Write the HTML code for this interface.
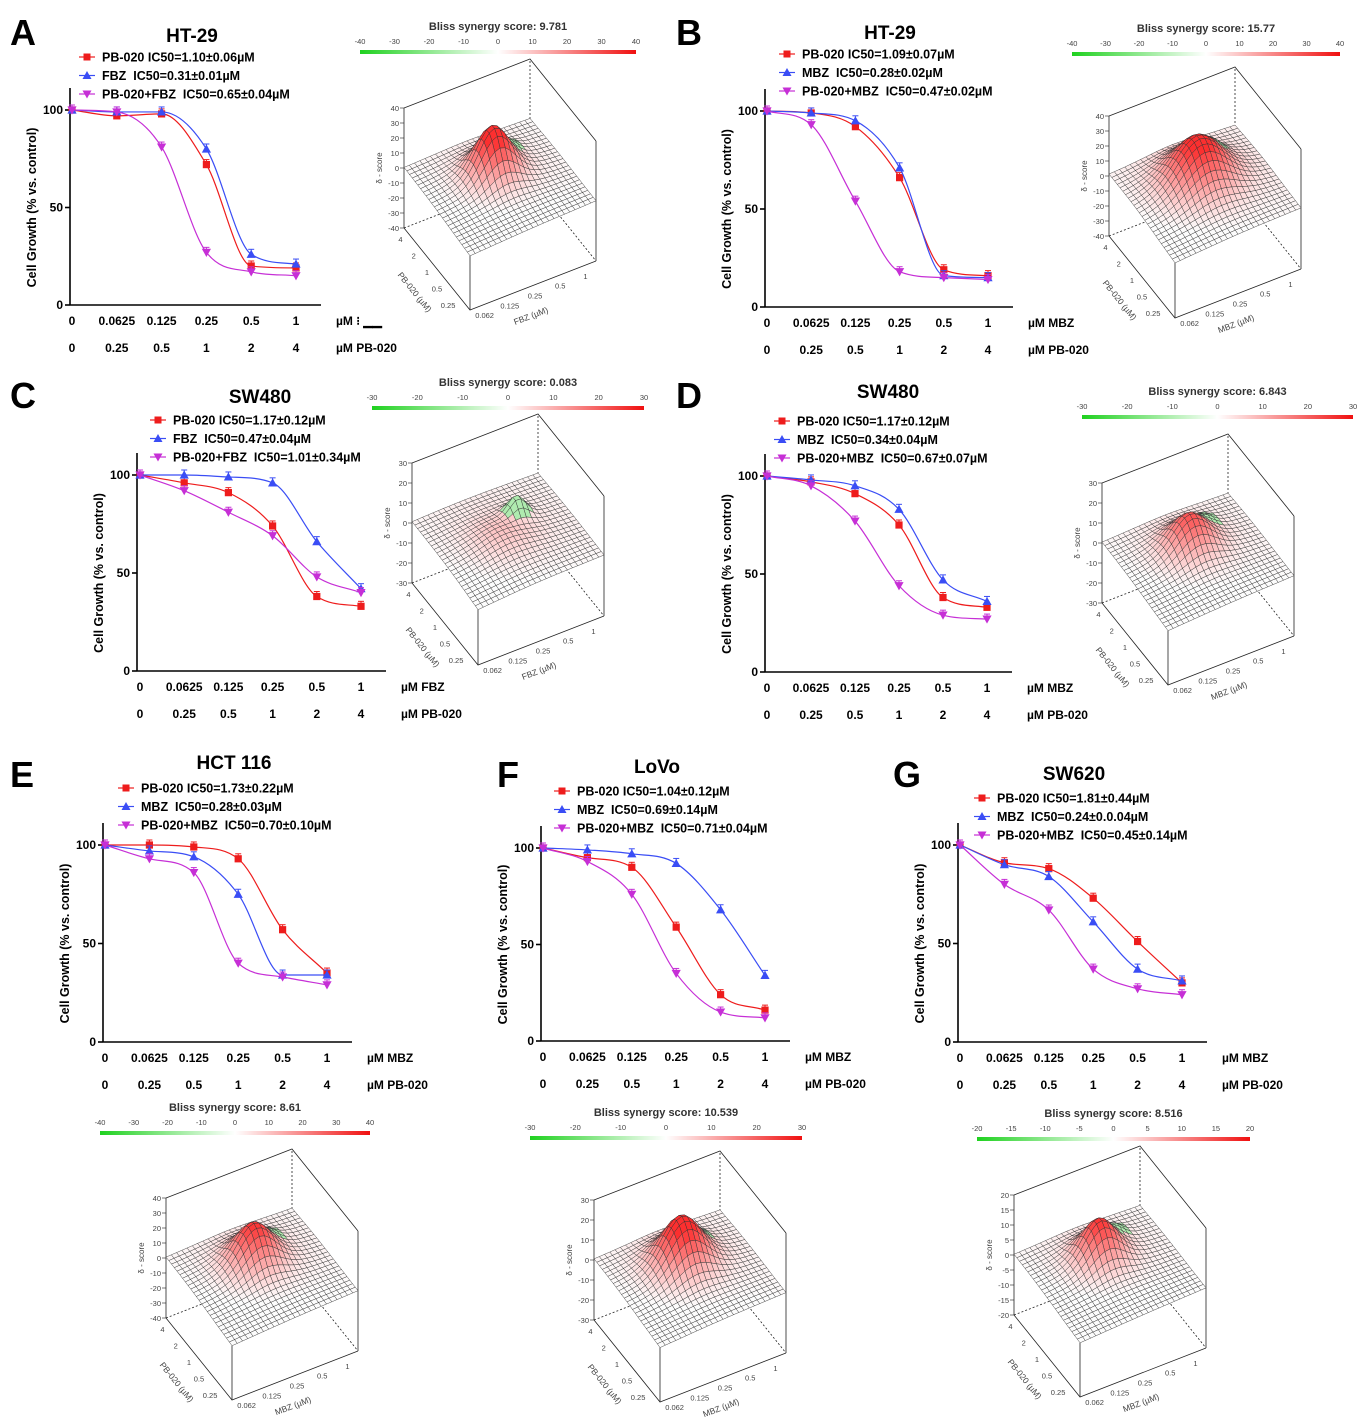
<!DOCTYPE html>
<html><head><meta charset="utf-8"><style>
html,body{margin:0;padding:0;background:#fff;}
svg{display:block;font-family:"Liberation Sans",Arial,sans-serif;}
text{white-space:pre;}
</style></head><body>
<svg id="fig" width="1366" height="1420" viewBox="0 0 1366 1420"></svg>
<script>
// ---- data ----
const dosesDrug = ["0","0.0625","0.125","0.25","0.5","1"];
const dosesPB = ["0","0.25","0.5","1","2","4"];
const yTicks = [0,50,100];
const A_pb = [100,97,98,72,20,19], A_drug=[100,99,99,80,26,21], A_combo=[100,99,81,27,17,15];
const B_pb = [100,99,92,66,19,16], B_drug=[100,99,95,71,16,15], B_combo=[100,93,54,18,15,14];
const C_pb = [100,96,91,74,38,33], C_drug=[100,100,99,96,66,42], C_combo=[100,92,81,69,48,40];
const D_pb = [100,97,91,75,38,33], D_drug=[100,98,95,83,47,36], D_combo=[100,95,77,44,29,27];
const E_pb = [100,100,99,93,57,35], E_drug=[100,97,94,75,34,34], E_combo=[100,93,86,40,33,29];
const F_pb = [100,95,90,59,24,16], F_drug=[100,99,97,92,68,34], F_combo=[100,93,76,35,15,12];
const G_pb = [100,91,88,73,51,30], G_drug=[100,90,84,61,37,31], G_combo=[100,80,67,37,27,24];
const blissScores = ["9.781","15.77","0.083","6.843","8.61","10.539","8.516"];
const zRanges = [40,40,30,30,40,30,20];

const panels = [
 {id:"A",cell:"HT-29",drug:"FBZ",ax:70,y100:110,y0:305,x0:72,dx:44.8,lt:[10,45],title:[192,42],leg:[87,57],
  ic:["1.10±0.06","0.31±0.01","0.65±0.04"],data:[A_pb,A_drug,A_combo],bar:[360,636,50],F:[470,310],peak:[0.6,0.5,0.75,0.03],green:0.12,unitTxt:"µM ⁝ ▁▁"},
 {id:"B",cell:"HT-29",drug:"MBZ",ax:765,y100:111,y0:307,x0:767,dx:44.2,lt:[676,45],title:[890,39],leg:[787,54],
  ic:["1.09±0.07","0.28±0.02","0.47±0.02"],data:[B_pb,B_drug,B_combo],bar:[1072,1340,52],F:[1175,318],peak:[0.6,0.5,0.7,0.06],green:0.08},
 {id:"C",cell:"SW480",drug:"FBZ",ax:137,y100:475,y0:671,x0:140,dx:44.2,lt:[10,408],title:[260,403],leg:[158,420],
  ic:["1.17±0.12","0.47±0.04","1.01±0.34"],data:[C_pb,C_drug,C_combo],bar:[372,644,406],F:[478,665],peak:[0.5,0.45,0.12,0.05],green:0.3},
 {id:"D",cell:"SW480",drug:"MBZ",ax:765,y100:476,y0:672,x0:767,dx:44,lt:[676,408],title:[888,398],leg:[782,421],
  ic:["1.17±0.12","0.34±0.04","0.67±0.07"],data:[D_pb,D_drug,D_combo],bar:[1082,1353,415],F:[1168,685],peak:[0.62,0.5,0.5,0.035],green:0.08},
 {id:"E",cell:"HCT 116",drug:"MBZ",ax:103,y100:845,y0:1042,x0:105,dx:44.4,lt:[10,787],title:[234,769],leg:[126,788],
  ic:["1.73±0.22","0.28±0.03","0.70±0.10"],data:[E_pb,E_drug,E_combo],bar:[100,370,1131],F:[232,1400],peak:[0.62,0.5,0.6,0.035],green:0.08},
 {id:"F",cell:"LoVo",drug:"MBZ",ax:541,y100:848,y0:1041,x0:543,dx:44.4,lt:[497,787],title:[657,773],leg:[562,791],
  ic:["1.04±0.12","0.69±0.14","0.71±0.04"],data:[F_pb,F_drug,F_combo],bar:[530,802,1136],F:[660,1402],peak:[0.62,0.5,0.75,0.04],green:0.08},
 {id:"G",cell:"SW620",drug:"MBZ",ax:958,y100:845,y0:1042,x0:960,dx:44.4,lt:[893,787],title:[1074,780],leg:[982,798],
  ic:["1.81±0.44","0.24±0.0.04","0.45±0.14"],data:[G_pb,G_drug,G_combo],bar:[977,1250,1137],F:[1080,1397],peak:[0.64,0.49,0.6,0.03],green:0.12}
];

const NS="http://www.w3.org/2000/svg";
const svg=document.getElementById("fig");
function mk(tag,attrs,parent,txt){const e=document.createElementNS(NS,tag);for(const k in attrs)e.setAttribute(k,attrs[k]);if(txt!==undefined)e.textContent=txt;(parent||svg).appendChild(e);return e;}
const colors=["#ee1c1c","#3a4df5","#c62fd6"];

function marker(g,type,x,y,c,s){
  if(type===0) return mk("rect",{x:x-s,y:y-s,width:2*s,height:2*s,fill:c},g);
  if(type===1) return mk("polygon",{points:`${x},${y-s-1} ${x-s-1},${y+s} ${x+s+1},${y+s}`,fill:c},g);
  return mk("polygon",{points:`${x},${y+s+1} ${x-s-1},${y-s} ${x+s+1},${y-s}`,fill:c},g);
}

// monotone cubic (Fritsch-Carlson)
function curvePath(pts){
  const n=pts.length,d=[],m=[];
  for(let i=0;i<n-1;i++)d.push((pts[i+1][1]-pts[i][1])/(pts[i+1][0]-pts[i][0]));
  m[0]=d[0];m[n-1]=d[n-2];
  for(let i=1;i<n-1;i++)m[i]=(d[i-1]*d[i]<=0)?0:(d[i-1]+d[i])/2;
  for(let i=0;i<n-1;i++){
    if(d[i]===0){m[i]=0;m[i+1]=0;continue;}
    const a=m[i]/d[i],b=m[i+1]/d[i],s=a*a+b*b;
    if(s>9){const t=3/Math.sqrt(s);m[i]=t*a*d[i];m[i+1]=t*b*d[i];}
  }
  let p=`M${pts[0][0]},${pts[0][1]}`;
  for(let i=0;i<n-1;i++){
    const h=(pts[i+1][0]-pts[i][0])/3;
    p+=` C${pts[i][0]+h},${pts[i][1]+m[i]*h} ${pts[i+1][0]-h},${pts[i+1][1]-m[i+1]*h} ${pts[i+1][0]},${pts[i+1][1]}`;
  }
  return p;
}

panels.forEach((p,pi)=>{
  const g=mk("g",{},svg);
  
  
  const L=mk("text",{x:p.lt[0],y:p.lt[1],"font-size":36,"font-weight":"bold"},g,p.id);
  
  
  const T=mk("text",{x:p.title[0],y:p.title[1],"font-size":19,"font-weight":"bold","text-anchor":"middle"},g,p.cell);
  
  
  const yS=v=>p.y0-(v/100)*(p.y0-p.y100);
  const xS=i=>p.x0+i*p.dx;
  const lg=mk("g",{},g);
  
  
  for(let s=0;s<3;s++){
    const ly=p.leg[1]+s*18.5;
    mk("line",{x1:p.leg[0]-8,y1:ly,x2:p.leg[0]+8,y2:ly,stroke:colors[s],"stroke-width":1.2},lg);
    marker(lg,s,p.leg[0],ly,colors[s],3.5);
    const tt=mk("text",{x:p.leg[0]+15,y:ly+4.5,"font-size":12.5,"font-weight":"bold"},lg,(s===0?"PB-020 ":s===1?p.drug+"  ":"PB-020+"+p.drug+"  ")+"IC50="+p.ic[s]+"µM");
    
    
  }
  const axg=mk("g",{stroke:"#000","stroke-width":1.6},g);
  
  
  mk("line",{x1:p.ax,y1:p.y100-22,x2:p.ax,y2:p.y0},axg);
  mk("line",{x1:p.ax,y1:p.y0,x2:xS(5)+25,y2:p.y0},axg);
  yTicks.forEach(v=>{
    mk("line",{x1:p.ax-5,y1:yS(v),x2:p.ax,y2:yS(v)},axg);
    const t=mk("text",{x:p.ax-7,y:yS(v)+4,"font-size":12,"font-weight":"bold","text-anchor":"end",stroke:"none"},g,v);
    
    
  });
  const yl=mk("text",{transform:`translate(${p.ax-34},${(p.y0+p.y100)/2}) rotate(-90)`,"font-size":12.5,"font-weight":"bold","text-anchor":"middle"},g,"Cell Growth (% vs. control)");
  
  
  for(let i=0;i<6;i++){
    const t1=mk("text",{x:xS(i),y:p.y0+20,"font-size":12,"font-weight":"bold","text-anchor":"middle"},g,dosesDrug[i]);
    
    
    const t2=mk("text",{x:xS(i),y:p.y0+47,"font-size":12,"font-weight":"bold","text-anchor":"middle"},g,dosesPB[i]);
    
    
  }
  const u1=mk("text",{x:xS(5)+40,y:p.y0+20,"font-size":12,"font-weight":"bold"},g,p.unitTxt||("µM "+p.drug));
  
  
  const u2=mk("text",{x:xS(5)+40,y:p.y0+47,"font-size":12,"font-weight":"bold"},g,"µM PB-020");
  
  
  p.data.forEach((arr,s)=>{
    const sg=mk("g",{},g);
    
    
    const pts=arr.map((v,i)=>[xS(i),yS(v)]);
    mk("path",{d:curvePath(pts),fill:"none",stroke:colors[s],"stroke-width":1.2},sg);
    pts.forEach(q=>{
      mk("line",{x1:q[0],y1:q[1]-5,x2:q[0],y2:q[1]+3,stroke:colors[s],"stroke-width":1},sg);
      mk("line",{x1:q[0]-3,y1:q[1]-5,x2:q[0]+3,y2:q[1]-5,stroke:colors[s],"stroke-width":1},sg);
      const m=marker(sg,s,q[0],q[1],colors[s],3.6);
      
      
    });
  });
  const zr=zRanges[pi];
  const cb=mk("g",{},g);
  
  
  const gid="grad"+p.id;
  const defs=mk("defs",{},cb);
  const lgd=mk("linearGradient",{id:gid,x1:0,x2:1,y1:0,y2:0},defs);
  mk("stop",{offset:"0","stop-color":"#1fd11f"},lgd);
  mk("stop",{offset:"0.5","stop-color":"#ffffff"},lgd);
  mk("stop",{offset:"1","stop-color":"#f01010"},lgd);
  const [bx1,bx2,by]=p.bar;
  mk("rect",{x:bx1,y:by,width:bx2-bx1,height:4,fill:`url(#${gid})`},cb);
  const bt=mk("text",{x:(bx1+bx2)/2,y:by-20,"font-size":11,"font-weight":"bold","text-anchor":"middle",fill:"#333"},cb,"Bliss synergy score: "+blissScores[pi]);
  
  
  const step=zr===20?5:10;
  for(let v=-zr;v<=zr;v+=step){
    mk("text",{x:bx1+(v+zr)/(2*zr)*(bx2-bx1),y:by-6,"font-size":7.5,"text-anchor":"middle",fill:"#444"},cb,v);
  }
  const sf=mk("g",{},g);
  
  
  const F=p.F, a=[-66,-82], b=[126,-49], H=120;
  const P=(u,v,z)=>[F[0]+u*a[0]+v*b[0], F[1]+u*a[1]+v*b[1]-H*(z+zr)/(2*zr)];
  const bl=(pts,dash)=>mk("polyline",{points:pts.map(q=>q.join(",")).join(" "),fill:"none",stroke:"#222","stroke-width":0.8,"stroke-dasharray":dash?"2,2":"none"},sf);
  bl([P(1,1,-zr),P(1,1,zr)],true);bl([P(1,0,-zr),P(1,1,-zr),P(0,1,-zr)],true);
  bl([P(1,0,-zr),P(1,0,zr)]);bl([P(0,1,-zr),P(0,1,zr)]);
  bl([P(1,0,zr),P(1,1,zr),P(0,1,zr)]);
  const N=24;
  const [pu,pv,amp,wd]=p.peak;
  const gu=Math.min(0.95,pu+0.15),gv=Math.min(0.95,pv+0.2);
  const zf=(u,v)=>{
    const r2=((u-pu)**2+(v-pv)**2);
    let z=amp*zr*Math.exp(-r2/wd) + 0.1*zr*Math.exp(-r2/(wd*6)) - 0.1*zr*(1-u)*(1-v);
    z+=p.green*zr*Math.exp(-((u-gu)**2+(v-gv)**2)/0.008);
    return z;
  };
  const isGreen=(u,v)=>((u-gu)**2+(v-gv)**2)<0.012;
  const quads=[];
  for(let i=0;i<N;i++)for(let j=0;j<N;j++)quads.push([i/N,(i+1)/N,j/N,(j+1)/N]);
  quads.sort((q1,q2)=>(q2[0]+q2[2])-(q1[0]+q1[2]));
  quads.forEach(q=>{
    const [u0,u1,v0,v1]=q;
    const uc=(u0+u1)/2,vc=(v0+v1)/2;
    const zc=zf(uc,vc)-p.green*zr*Math.exp(-((uc-gu)**2+(vc-gv)**2)/0.008);
    let fill;
    if(isGreen(uc,vc)){fill="rgb(175,235,175)";}
    else{const t=Math.max(0,Math.min(1,zc/(zr*0.7)));const c=Math.round(252-205*t);fill=`rgb(252,${c},${c})`;}
    const pts=[P(u0,v0,zf(u0,v0)),P(u1,v0,zf(u1,v0)),P(u1,v1,zf(u1,v1)),P(u0,v1,zf(u0,v1))];
    mk("polygon",{points:pts.map(s=>s[0].toFixed(1)+","+s[1].toFixed(1)).join(" "),fill:fill,stroke:"#333","stroke-width":0.45},sf);
  });
  bl([P(1,0,-zr),P(0,0,-zr),P(0,1,-zr)]);bl([P(0,0,-zr),P(0,0,zf(0,0))]);
  for(let v=-zr;v<=zr;v+=(zr===20?5:10)){
    const q=P(1,0,v);
    mk("line",{x1:q[0]-4,y1:q[1],x2:q[0],y2:q[1],stroke:"#222","stroke-width":0.6},sf);
    mk("text",{x:q[0]-5,y:q[1]+3,"font-size":7.5,"text-anchor":"end",fill:"#444"},sf,v);
  }
  const zq=P(1,0,0);
  mk("text",{transform:`translate(${zq[0]-22},${zq[1]}) rotate(-90)`,"font-size":8,"text-anchor":"middle",fill:"#444"},sf,"δ - score");
  const pbT=["0.25","0.5","1","2","4"];
  pbT.forEach((t,k)=>{const q=P(0.1+k*0.2,0,-zr);mk("text",{x:q[0]-8,y:q[1]+6,"font-size":7.5,"text-anchor":"end",fill:"#444"},sf,t);});
  const dT=["0.062","0.125","0.25","0.5","1"];
  dT.forEach((t,k)=>{const q=P(0,0.1+k*0.2,-zr);mk("text",{x:q[0]+2,y:q[1]+13,"font-size":7.5,"text-anchor":"middle",fill:"#444"},sf,t);});
  const pa=P(0.5,-0.1,-zr);
  mk("text",{transform:`translate(${pa[0]-12},${pa[1]+20}) rotate(51)`,"font-size":8.5,"text-anchor":"middle",fill:"#444"},sf,"PB-020 (µM)");
  const da=P(-0.08,0.45,-zr);
  mk("text",{transform:`translate(${da[0]},${da[1]+24}) rotate(-21)`,"font-size":8.5,"text-anchor":"middle",fill:"#444"},sf,p.drug+" (µM)");
});
</script>
</body></html>
